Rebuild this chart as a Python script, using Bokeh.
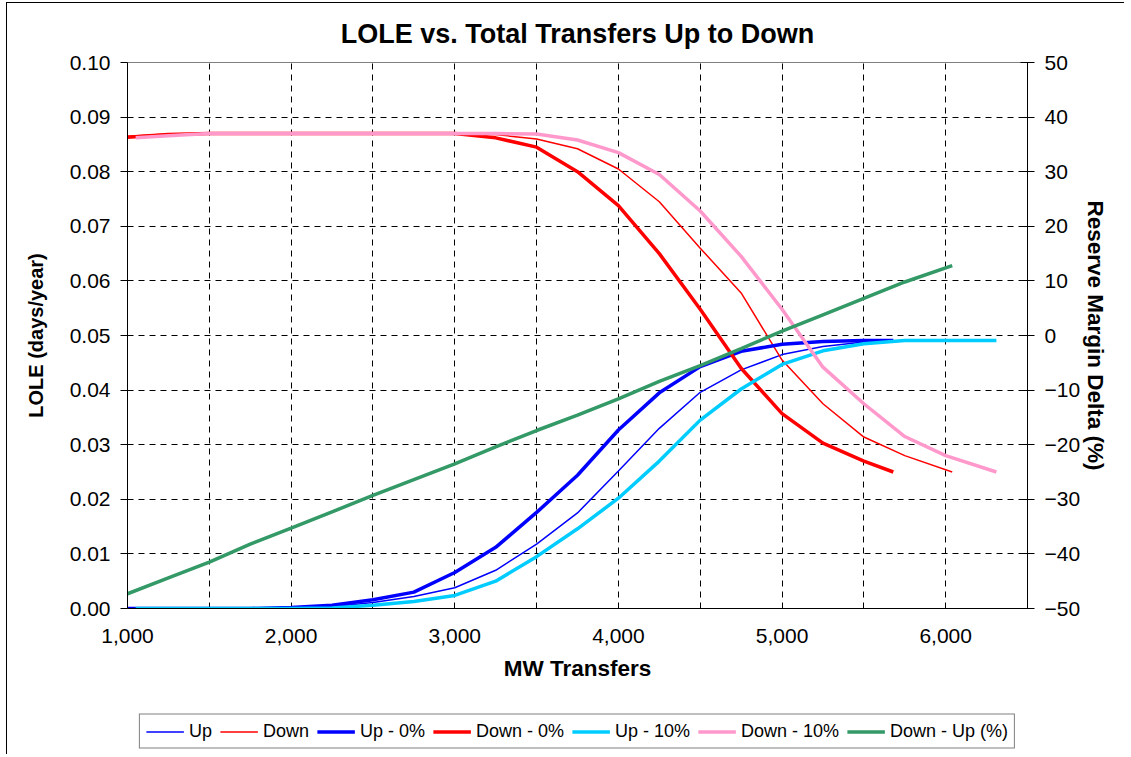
from bokeh.plotting import figure
from bokeh.layouts import column
from bokeh.models import (Range1d, LinearAxis, FixedTicker, Legend, LegendItem,
                          NumeralTickFormatter)
from bokeh.embed import file_html
from bokeh.resources import INLINE

# ---------------- data ----------------
up_x = [1000, 1250, 1500, 1750, 2000, 2250, 2500, 2750, 3000, 3250, 3500, 3750,
        4000, 4250, 4500, 4750, 5000, 5250, 5500, 5680]
up = [0, 0, 0, 0, 0.0001, 0.0003, 0.0011, 0.0022, 0.0038, 0.0070, 0.0118, 0.0175,
      0.0252, 0.0330, 0.0396, 0.0437, 0.0465, 0.0480, 0.0488, 0.0491]
up_0 = [0, 0, 0, 0, 0.0002, 0.0006, 0.0016, 0.0030, 0.0066, 0.0112, 0.0176, 0.0244,
        0.0327, 0.0395, 0.0443, 0.0471, 0.0484, 0.0489, 0.0491, 0.0491]
down_0 = [0.0863, 0.0868, 0.0870, 0.0870, 0.0870, 0.0870, 0.0870, 0.0870, 0.0870,
          0.0862, 0.0845, 0.0800, 0.0738, 0.0650, 0.0548, 0.0440, 0.0357, 0.0303,
          0.0270, 0.0250]

down_x = [1000, 1250, 1500, 1750, 2000, 2250, 2500, 2750, 3000, 3250, 3500, 3750,
          4000, 4250, 4500, 4750, 5000, 5250, 5500, 5750, 6040]
down = [0.0865, 0.0869, 0.0870, 0.0870, 0.0870, 0.0870, 0.0870, 0.0870, 0.0870,
        0.0868, 0.0860, 0.0842, 0.0805, 0.0745, 0.0660, 0.0578, 0.0455, 0.0375,
        0.0314, 0.0280, 0.0250]

ten_x = [1050, 1250, 1500, 1750, 2000, 2250, 2500, 2750, 3000, 3250, 3500, 3750,
         4000, 4250, 4500, 4750, 5000, 5250, 5500, 5750, 6000, 6310]
up_10 = [0, 0, 0, 0, 0, 0.0001, 0.0006, 0.0013, 0.0024, 0.0050, 0.0095, 0.0146,
         0.0202, 0.0270, 0.0345, 0.0402, 0.0447, 0.0472, 0.0485, 0.0491, 0.0491, 0.0491]
down_10 = [0.0862, 0.0866, 0.0870, 0.0870, 0.0870, 0.0870, 0.0870, 0.0870, 0.0870,
           0.0870, 0.0869, 0.0858, 0.0835, 0.0795, 0.0728, 0.0645, 0.0548, 0.0442,
           0.0375, 0.0315, 0.0280, 0.0250]

diff_x = [1000, 1250, 1500, 1750, 2000, 2250, 2500, 2750, 3000, 3250, 3500, 3750,
          4000, 4250, 4500, 4750, 5000, 5250, 5500, 5750, 6040]
down_minus_up = [-47.3, -44.4, -41.5, -38.2, -35.3, -32.3, -29.3, -26.4, -23.5, -20.4,
                 -17.4, -14.6, -11.6, -8.4, -5.5, -2.4, 0.8, 3.8, 6.8, 9.8, 12.8]

x_ticks = [1000, 1500, 2000, 2500, 3000, 3500, 4000, 4500, 5000, 5500, 6000, 6500]
x_labels = {1000: "1,000", 2000: "2,000", 3000: "3,000", 4000: "4,000",
            5000: "5,000", 6000: "6,000"}
y_ticks = [0.00, 0.01, 0.02, 0.03, 0.04, 0.05, 0.06, 0.07, 0.08, 0.09, 0.10]
y2_ticks = [-50, -40, -30, -20, -10, 0, 10, 20, 30, 40, 50]

series_names = ["Up", "Down", "Up - 0%", "Down - 0%", "Up - 10%", "Down - 10%",
                "Down - Up (%)"]
series_colors = ["#0000FF", "#FF0000", "#0000FF", "#FF0000", "#00CCFF", "#FF99CC",
                 "#339966"]
series_widths = [1.5, 1.5, 3.5, 3.5, 3.5, 3.5, 3.5]

FONT = "Liberation Sans"
TICK_FS = "21px"
FIG_W = 1117

p = figure(frame_width=900, frame_height=546, output_backend="svg",
           toolbar_location=None,
           x_range=Range1d(1000, 6500), y_range=Range1d(0, 0.10),
           min_border_left=120, min_border_right=FIG_W - 1020, min_border_top=58,
           min_border_bottom=100,
           title="LOLE vs. Total Transfers Up to Down")
p.extra_y_ranges = {"rm": Range1d(-50, 50)}

p.title.align = "center"
p.title.text_font = FONT
p.title.text_font_size = "27px"
p.title.text_font_style = "bold"
p.title.text_color = "black"
p.title.standoff = 27

p.outline_line_color = "#808080"
p.outline_line_width = 1

# x axis
xa = p.xaxis[0]
xa.ticker = FixedTicker(ticks=x_ticks)
xa.major_label_overrides = {t: x_labels.get(t, "") for t in x_ticks}
xa.major_tick_line_color = None
xa.minor_tick_line_color = None
xa.axis_line_color = "black"
xa.major_label_text_font = FONT
xa.major_label_text_font_size = TICK_FS
xa.major_label_text_color = "black"
xa.major_label_standoff = 14
xa.axis_label = "MW Transfers"
xa.axis_label_text_font = FONT
xa.axis_label_text_font_size = "22.5px"
xa.axis_label_text_font_style = "bold"
xa.axis_label_text_color = "black"
xa.axis_label_standoff = 10

# left axis
ya = p.yaxis[0]
ya.ticker = FixedTicker(ticks=y_ticks)
ya.formatter = NumeralTickFormatter(format="0.00")
ya.major_tick_out = 7
ya.major_tick_in = 0
ya.minor_tick_line_color = None
ya.axis_line_color = "black"
ya.major_label_text_font = FONT
ya.major_label_text_font_size = TICK_FS
ya.major_label_text_color = "black"
ya.major_label_standoff = 10
ya.axis_label = "LOLE (days/year)"
ya.axis_label_text_font = FONT
ya.axis_label_text_font_size = "20px"
ya.axis_label_text_font_style = "bold"
ya.axis_label_text_color = "black"
ya.axis_label_standoff = 20

# right axis
ra = LinearAxis(y_range_name="rm", ticker=FixedTicker(ticks=y2_ticks))
ra.major_tick_out = 7
ra.major_tick_in = 7
ra.minor_tick_line_color = None
ra.axis_line_color = "black"
ra.major_label_text_font = FONT
ra.major_label_text_font_size = TICK_FS
ra.major_label_text_color = "black"
ra.major_label_standoff = 10
ra.axis_label = "Reserve Margin Delta (%)"
ra.axis_label_text_font = FONT
ra.axis_label_text_font_size = "22.5px"
ra.axis_label_text_font_style = "bold"
ra.axis_label_text_color = "black"
ra.axis_label_standoff = 0
p.add_layout(ra, "right")

# grids
p.xgrid.ticker = FixedTicker(ticks=x_ticks[1:-1])
p.ygrid.ticker = FixedTicker(ticks=y_ticks[1:-1])
for g in (p.xgrid[0], p.ygrid[0]):
    g.grid_line_color = "black"
    g.grid_line_dash = "6 5"
    g.grid_line_width = 1

# series
xs = [up_x, down_x, up_x, up_x, ten_x, ten_x, diff_x]
ys = [up, down, up_0, down_0, up_10, down_10, down_minus_up]
for i in range(7):
    kw = {"y_range_name": "rm"} if i == 6 else {}
    p.line(xs[i], ys[i], line_color=series_colors[i], line_width=series_widths[i], **kw)

# legend strip: a small figure holding only the legend box;
# its proxy lines lie outside the visible range and only feed the legend swatches
lg = figure(width=FIG_W, height=46, output_backend="svg", toolbar_location=None,
            x_axis_type=None, y_axis_type=None, min_border=0,
            x_range=Range1d(0, 1), y_range=Range1d(0, 1))
lg.outline_line_color = None
lg.xgrid.visible = False
lg.ygrid.visible = False
items = []
for i in range(7):
    r = lg.line([5, 6], [5, 6], line_color=series_colors[i], line_width=series_widths[i])
    items.append(LegendItem(label=series_names[i], renderers=[r]))
legend = Legend(items=items, orientation="horizontal", location="center")
legend.label_text_font = FONT
legend.label_text_font_size = "18px"
legend.label_text_color = "black"
legend.glyph_width = 38
legend.label_standoff = 5
legend.spacing = 8
legend.padding = 6
legend.margin = 0
legend.border_line_color = "black"
legend.border_line_width = 1
legend.background_fill_alpha = 1
lg.add_layout(legend, "center")

layout = column(p, lg, spacing=0)
layout.styles = {"border-left": "1px solid black", "border-top": "1px solid black",
                 "margin-left": "6px", "margin-top": "2px"}

open("out.html", "w").write(file_html(layout, INLINE))
